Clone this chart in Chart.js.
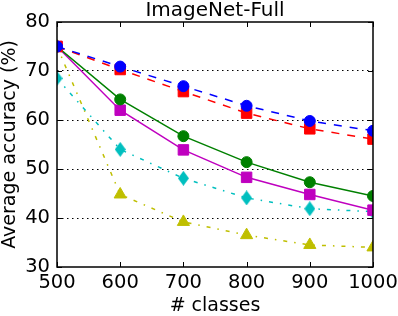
<!DOCTYPE html>
<html>
<head>
<meta charset="utf-8">
<script src="https://cdn.jsdelivr.net/npm/chart.js@4.4.0/dist/chart.umd.min.js"></script>
<style>
  html, body { margin: 0; padding: 0; background: #fff; }
  #wrap { width: 398px; height: 316px; }
</style>
</head>
<body>
<div id="wrap"><canvas id="chart" width="398" height="316"></canvas></div>
<script>
const classes = [500, 600, 700, 800, 900, 1000];
const blueVals = [75, 70.9, 66.9, 62.9, 59.8, 57.8];
const redVals = [75, 70.3, 65.8, 61.4, 58.2, 56.1];
const greenVals = [75, 64.2, 56.7, 51.4, 47.3, 44.5];
const magentaVals = [75, 62.0, 53.9, 48.3, 44.8, 41.6];
const cyanVals = [68.5, 54.0, 48.1, 44.1, 41.9, 41.3];
const yellowVals = [75, 44.8, 39.2, 36.5, 34.5, 34.0];

const FONT = "'DejaVu Sans', sans-serif";

// thin diamond marker like matplotlib 'd'
function thinDiamond(color) {
  const c = document.createElement('canvas');
  c.width = 11; c.height = 15;
  const g = c.getContext('2d');
  g.fillStyle = color;
  g.beginPath();
  g.moveTo(5.5, 0);
  g.lineTo(11, 7.5);
  g.lineTo(5.5, 15);
  g.lineTo(0, 7.5);
  g.closePath();
  g.fill();
  return c;
}

function series(vals, color, style, dash, radius) {
  return {
    data: classes.map((c, i) => ({ x: c, y: vals[i] })),
    borderColor: color,
    backgroundColor: color,
    borderWidth: 1.5,
    borderDash: dash,
    pointStyle: style,
    pointRadius: radius,
    pointHoverRadius: radius,
    pointBorderColor: color,
    pointBackgroundColor: color,
    pointBorderWidth: 1,
    tension: 0,
    clip: 0
  };
}

const dashed = [8, 8];
const dashDot = [4, 7, 1.5, 7];

// box around the plot with inward ticks on all sides
const frameTicks = {
  id: 'frameTicks',
  afterDraw(chart) {
    const ctx = chart.ctx;
    const a = chart.chartArea;
    const x = chart.scales.x, y = chart.scales.y;
    const len = 5;
    ctx.save();
    ctx.strokeStyle = '#000';
    ctx.lineWidth = 1;
    ctx.beginPath();
    x.ticks.forEach(t => {
      const px = Math.round(x.getPixelForValue(t.value)) + 0.5;
      ctx.moveTo(px, a.bottom); ctx.lineTo(px, a.bottom - len);
      ctx.moveTo(px, a.top); ctx.lineTo(px, a.top + len);
    });
    y.ticks.forEach(t => {
      const py = Math.round(y.getPixelForValue(t.value)) + 0.5;
      ctx.moveTo(a.left, py); ctx.lineTo(a.left + len, py);
      ctx.moveTo(a.right, py); ctx.lineTo(a.right - len, py);
    });
    ctx.stroke();
    ctx.lineWidth = 1.5;
    ctx.strokeRect(a.left, a.top, a.right - a.left, a.bottom - a.top);
    ctx.restore();
  }
};

new Chart(document.getElementById('chart'), {
  type: 'line',
  data: {
    datasets: [
      series(blueVals, '#0000ff', 'circle', dashed, 5.5),
      series(redVals, '#ff0000', 'rect', dashed, 7.4),
      series(greenVals, '#008000', 'circle', [], 5.5),
      series(magentaVals, '#bf00bf', 'rect', [], 7.4),
      series(cyanVals, '#00bfbf', thinDiamond('#00bfbf'), dashDot, 6),
      series(yellowVals, '#bfbf00', 'triangle', dashDot, 7)
    ]
  },
  options: {
    responsive: false,
    animation: false,
    events: [],
    layout: { padding: { left: 0, right: 25, top: 0, bottom: 0 } },
    plugins: {
      legend: { display: false },
      tooltip: { enabled: false },
      title: {
        display: true,
        fullSize: false,
        text: 'ImageNet-Full',
        color: '#000',
        font: { family: FONT, size: 20, weight: 'normal', lineHeight: 1.1 },
        padding: { top: 0, bottom: 0 }
      }
    },
    scales: {
      x: {
        type: 'linear',
        min: 500,
        max: 1000,
        afterFit: s => { s.height = 49; s.paddingLeft = 0; s.paddingRight = 0; },
        grid: { display: false, drawTicks: false },
        border: { display: false },
        ticks: {
          stepSize: 100,
          color: '#000',
          padding: 5.5,
          maxRotation: 0,
          callback: v => String(v),
          font: { family: FONT, size: 19.5, lineHeight: 1.1 }
        },
        title: {
          display: true,
          text: '# classes',
          color: '#000',
          font: { family: FONT, size: 19, lineHeight: 1.0 },
          padding: { top: 0, bottom: 0 }
        }
      },
      y: {
        min: 30,
        max: 80,
        afterFit: s => { s.width = 57; },
        grid: {
          drawTicks: false,
          lineWidth: 1,
          color: c => (c.tick && (c.tick.value === 30 || c.tick.value === 80)) ? 'rgba(0,0,0,0)' : '#000'
        },
        border: { display: false, dash: [1.5, 3.5] },
        ticks: {
          stepSize: 10,
          color: '#000',
          padding: 7,
          font: { family: FONT, size: 19.5, lineHeight: 1.1 }
        },
        title: {
          display: true,
          text: 'Average accuracy (%)',
          color: '#000',
          font: { family: FONT, size: 19, lineHeight: 1.1 },
          padding: { top: 0, bottom: 0 }
        }
      }
    }
  },
  plugins: [frameTicks]
});
</script>
</body>
</html>
